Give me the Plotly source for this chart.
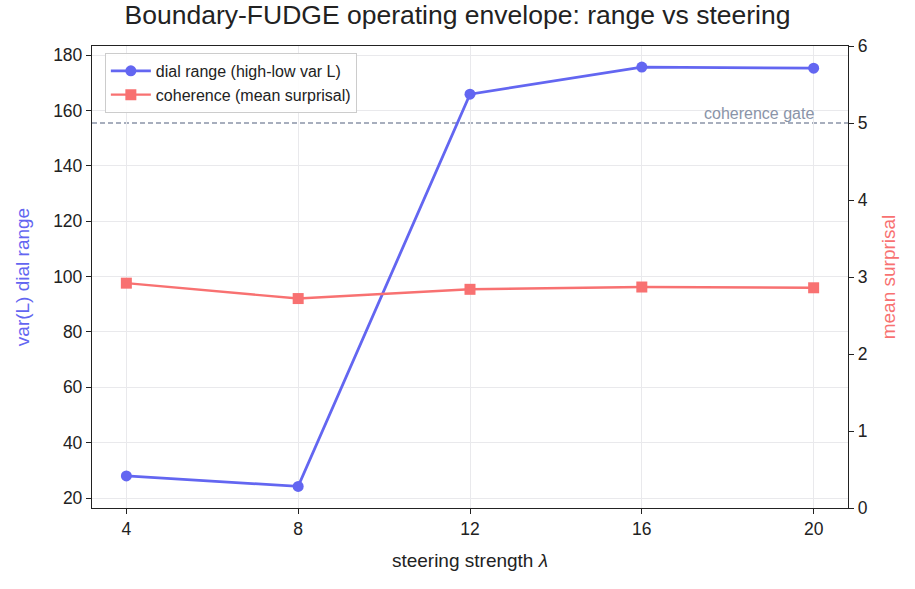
import plotly.graph_objects as go

lam = [4, 8, 12, 16, 20]
dial_range = [28.0, 24.2, 165.9, 175.7, 175.3]
surprisal = [2.92, 2.72, 2.84, 2.87, 2.86]
gate = 5.0
x_ticks = [4, 8, 12, 16, 20]
y_ticks = [20, 40, 60, 80, 100, 120, 140, 160, 180]
y2_ticks = [0, 1, 2, 3, 4, 5, 6]

BLUE = "#6366f1"
RED = "#f87171"
GATE = "#8a94a8"
FONT = "Liberation Sans, Arial, sans-serif"

fig = go.Figure()
fig.add_trace(go.Scatter(
    x=lam, y=dial_range, mode="lines+markers", name="dial range (high-low var L)",
    line=dict(color=BLUE, width=2.8), marker=dict(symbol="circle", size=11, color=BLUE),
    yaxis="y"))
fig.add_trace(go.Scatter(
    x=lam, y=surprisal, mode="lines+markers", name="coherence (mean surprisal)",
    line=dict(color=RED, width=2.4), marker=dict(symbol="square", size=11, color=RED),
    yaxis="y2"))

fig.add_shape(type="line", xref="paper", x0=0, x1=1, yref="y2", y0=gate, y1=gate,
              line=dict(color=GATE, width=1.5, dash="5px,3px"), layer="below")
fig.add_annotation(x=0.958, xref="paper", y=gate, yref="y2", text="coherence gate",
                   showarrow=False, xanchor="right", yanchor="bottom", yshift=-1,
                   font=dict(family=FONT, size=16, color=GATE))

fig.update_layout(
    width=915, height=589,
    margin=dict(l=92, r=67, t=46, b=81),
    paper_bgcolor="white", plot_bgcolor="white",
    font=dict(family=FONT, size=17.5, color="#222"),
    title=dict(text="Boundary-FUDGE operating envelope: range vs steering",
               x=0.5, xanchor="center", y=0.99, yanchor="top",
               font=dict(size=26.5, color="#222")),
    xaxis=dict(range=[3.2, 20.8], tickvals=x_ticks, showgrid=True, gridcolor="#e9e9ec",
               showline=True, linecolor="#222", linewidth=1.3, mirror=True,
               ticks="outside", ticklen=5, tickcolor="#222", zeroline=False,
               title=dict(text="steering strength <i>λ</i>", font=dict(size=19), standoff=15)),
    yaxis=dict(range=[16.4, 183.3], tickvals=y_ticks, showgrid=True, gridcolor="#e9e9ec",
               showline=True, linecolor="#222", linewidth=1.3,
               ticks="outside", ticklen=5, tickcolor="#222", zeroline=False,
               title=dict(text="var(L) dial range", font=dict(size=19, color=BLUE), standoff=18)),
    yaxis2=dict(range=[0, 6], tickvals=y2_ticks, overlaying="y", side="right", showgrid=False,
                showline=True, linecolor="#222", linewidth=1.3,
                ticks="outside", ticklen=5, tickcolor="#222", zeroline=False,
                title=dict(text="mean surprisal", font=dict(size=19, color=RED), standoff=15)),
    legend=dict(x=0.017, y=0.985, xanchor="left", yanchor="top",
                bgcolor="rgba(255,255,255,0.9)", bordercolor="#cccccc", borderwidth=1,
                font=dict(size=16, color="#222"), itemwidth=40, tracegroupgap=0),
    showlegend=True,
)

fig.write_html("out.html")
